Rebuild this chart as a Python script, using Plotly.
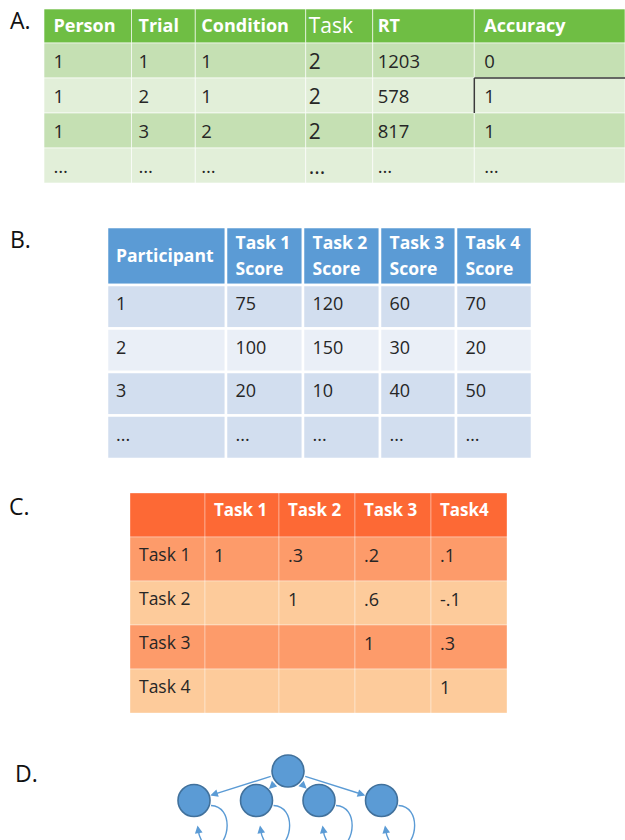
import plotly.graph_objects as go

# ---------------- data ----------------
a_headers = ["Person", "Trial", "Condition", "Task", "RT", "Accuracy"]
a_person = ["1", "1", "1", "…"]
a_trial = ["1", "2", "3", "…"]
a_condition = ["1", "1", "2", "…"]
a_task = ["2", "2", "2", "..."]
a_rt = ["1203", "578", "817", "…"]
a_accuracy = ["0", "1", "1", "…"]

b_headers = ["Participant", "Task 1\nScore", "Task 2\nScore", "Task 3\nScore", "Task 4\nScore"]
b_participant = ["1", "2", "3", "..."]
b_task1 = ["75", "100", "20", "..."]
b_task2 = ["120", "150", "10", "..."]
b_task3 = ["60", "30", "40", "..."]
b_task4 = ["70", "20", "50", "…"]

c_headers = ["", "Task 1", "Task 2", "Task 3", "Task4"]
c_row_labels = ["Task 1", "Task 2", "Task 3", "Task 4"]
c_task1 = ["1", "", "", ""]
c_task2 = [".3", "1", "", ""]
c_task3 = [".2", ".6", "1", ""]
c_task4 = [".1", "-.1", ".3", "1"]

panel_labels = ["A.", "B.", "C.", "D."]
d_root = "general"
d_children = ["task 1", "task 2", "task 3", "task 4"]

# ---------------- style / layout ----------------
W, H = 625, 840
FONT = "Open Sans"
TXT = "#262626"

shapes = []
traces = []
text_groups = {}


def add_text(x, y, s, size, bold, color):
    key = (size, bold, color)
    g = text_groups.setdefault(key, {"x": [], "y": [], "t": []})
    g["x"].append(x)
    g["y"].append(y)
    g["t"].append(s)


def draw_table(x0, y0, widths, header_h, row_h, headers, columns, header_fill,
               row_fills, line_color, line_width, pads, head_sizes, head_bold,
               body_sizes, head_dy, body_dy, head_line_gap=0):
    lefts = [x0 + sum(widths[:j]) for j in range(len(widths))]
    nrows = len(columns[0])
    for j, (xl, w) in enumerate(zip(lefts, widths)):
        shapes.append(dict(type="rect", xref="x", yref="y", x0=xl, x1=xl + w,
                           y0=y0, y1=y0 + header_h, fillcolor=header_fill,
                           line=dict(color=line_color, width=line_width), layer="below"))
        lines = headers[j].split("\n")
        n = len(lines)
        for k, ln in enumerate(lines):
            yc = y0 + header_h / 2 + head_dy + (k - (n - 1) / 2) * head_line_gap
            if ln:
                add_text(xl + pads[j], yc, ln, head_sizes[j], head_bold[j], "white")
        for i in range(nrows):
            yt = y0 + header_h + i * row_h
            shapes.append(dict(type="rect", xref="x", yref="y", x0=xl, x1=xl + w,
                               y0=yt, y1=yt + row_h, fillcolor=row_fills[i],
                               line=dict(color=line_color, width=line_width), layer="below"))
            val = columns[j][i]
            if val:
                add_text(xl + pads[j], yt + row_h / 2 + body_dy, val, body_sizes[j], False, TXT)
    return lefts


# Table A
a_lefts = draw_table(
    44, 9, [87.5, 63.8, 110.4, 67, 101.6, 150.7], 34, 35, a_headers,
    [a_person, a_trial, a_condition, a_task, a_rt, a_accuracy],
    "#6FBE44", ["#C5E0B3", "#E2EFD9", "#C5E0B3", "#E2EFD9"],
    "rgba(255,255,255,0.6)", 1, [9.5, 7, 6, 3, 5, 10],
    [18, 18, 18, 21, 18, 18], [True, True, True, False, True, True],
    [18.5, 18.5, 18.5, 21, 18.5, 18.5], 1.5, 3)
# highlighted cell border (Accuracy, trial 2)
acc_x = a_lefts[5]
shapes.append(dict(type="line", xref="x", yref="y", x0=acc_x, x1=W + 5, y0=78, y1=78,
                   line=dict(color="#3a3a3a", width=1.5)))
shapes.append(dict(type="line", xref="x", yref="y", x0=acc_x, x1=acc_x, y0=78, y1=113,
                   line=dict(color="#3a3a3a", width=1.5)))

# Table B
draw_table(
    107, 227, [119, 77, 77, 76, 76], 58, 43.5, b_headers,
    [b_participant, b_task1, b_task2, b_task3, b_task4],
    "#5B9BD5", ["#D2DEEF", "#EAEFF7", "#D2DEEF", "#D2DEEF"],
    "white", 2.5, [9, 9.5, 9.5, 9.5, 9.5],
    [17.5] * 5, [True] * 5, [18] * 5, 2, -1, 26)

# Table C
draw_table(
    130, 493, [75, 74, 76, 76, 76], 44, 44, c_headers,
    [c_row_labels, c_task1, c_task2, c_task3, c_task4],
    "#FD6935", ["#FD9B6A", "#FDCB9B", "#FD9B6A", "#FDCB9B"],
    "rgba(255,255,255,0.35)", 1, [9, 9, 9, 9, 9],
    [17] * 5, [True] * 5, [17.5, 18, 18, 18, 18], -3, -2)

for (size, bold, color), g in text_groups.items():
    traces.append(go.Scatter(
        x=g["x"], y=g["y"], text=g["t"], mode="text", textposition="middle right",
        textfont=dict(family=FONT, size=size, color=color,
                      weight="bold" if bold else "normal"),
        hoverinfo="skip", showlegend=False, cliponaxis=False))

# ---------------- panel D: network ----------------
root_xy = (288, 771)
child_x0, child_dx, child_y = 194, 62.5, 800.5
node_r = 16.5
child_xy = [(child_x0 + i * child_dx, child_y) for i in range(len(d_children))]
NODE = "#5B9BD5"
EDGE = "#5B9BD5"

annotations = []
for (cx, cy) in child_xy:
    annotations.append(dict(x=cx, y=cy, ax=root_xy[0], ay=root_xy[1], xref="x", yref="y",
                            axref="x", ayref="y", text="", showarrow=True, arrowhead=2,
                            arrowsize=1.1, arrowwidth=1.4, arrowcolor=EDGE,
                            standoff=node_r + 0.5, startstandoff=node_r))
    path = (f"M {cx+17},{cy+5} C {cx+40},{cy+6} {cx+36},{cy+44} {cx+20},{cy+47} "
            f"C {cx+10},{cy+48} {cx+5},{cy+38} {cx+4},{cy+28}")
    shapes.append(dict(type="path", xref="x", yref="y", path=path,
                       line=dict(color=EDGE, width=1.4), layer="below"))
    annotations.append(dict(x=cx + 3.5, y=cy + 25, ax=cx + 5, ay=cy + 34, xref="x", yref="y",
                            axref="x", ayref="y", text="", showarrow=True, arrowhead=2,
                            arrowsize=1.1, arrowwidth=1.4, arrowcolor=EDGE))

traces.append(go.Scatter(
    x=[root_xy[0]] + [p[0] for p in child_xy],
    y=[root_xy[1]] + [p[1] for p in child_xy],
    text=[d_root] + d_children, mode="markers",
    marker=dict(size=2 * node_r - 1, color=NODE, line=dict(color="#41719C", width=1.6)),
    hoverinfo="text", showlegend=False, cliponaxis=False))

# panel labels
label_pos = [(20, 20), (20, 239), (19, 506), (26, 773)]
for lab, (lx, ly) in zip(panel_labels, label_pos):
    annotations.append(dict(x=lx, y=ly, xref="x", yref="y", text=lab, showarrow=False,
                            font=dict(family=FONT, size=23, color="#111111"),
                            xanchor="center", yanchor="middle", borderpad=0, borderwidth=0))

fig = go.Figure(traces)
fig.update_layout(
    width=W, height=H, margin=dict(l=0, r=0, t=0, b=0),
    paper_bgcolor="white", plot_bgcolor="white",
    xaxis=dict(range=[0, W], visible=False, fixedrange=True),
    yaxis=dict(range=[H, 0], visible=False, fixedrange=True),
    shapes=shapes, annotations=annotations, showlegend=False,
)
# place the figure at the window's corner (no default page margin)
fig.write_html("out.html", config={"displayModeBar": False},
               post_script="document.body.style.margin='0';")
